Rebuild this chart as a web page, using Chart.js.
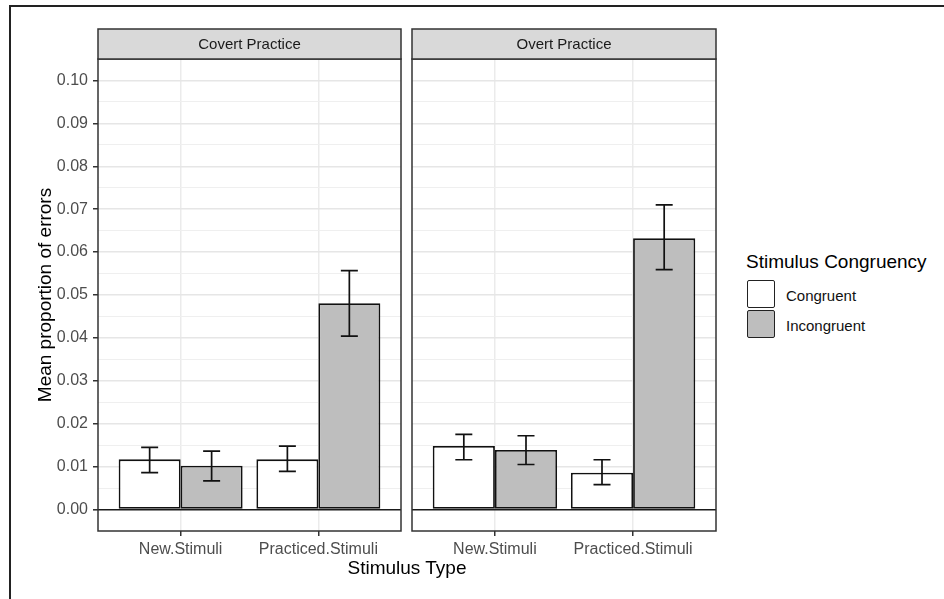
<!DOCTYPE html>
<html>
<head>
<meta charset="utf-8">
<script src="https://cdn.jsdelivr.net/npm/chart.js@4"></script>
<style>
  body { margin: 0; background: #fff; width: 944px; height: 599px; overflow: hidden; position: relative; font-family: 'Liberation Sans', Arial, sans-serif; }
  .frame { position: absolute; left: 9px; top: 5px; width: 1000px; height: 700px; border-left: 2px solid #222; border-top: 2px solid #222; }
  canvas { position: absolute; top: 0; }
  #covertChart { left: 0; }
  #overtChart { left: 404px; }
  .xtitle { position: absolute; left: 307px; width: 200px; top: 557px; text-align: center; font-size: 19px; color: #000; }
  .legend-title { position: absolute; left: 746px; top: 251px; font-size: 19px; color: #000; white-space: nowrap; }
  .key { position: absolute; left: 747px; width: 26px; height: 26px; border: 1.5px solid #222; border-radius: 2px; }
  .key-label { position: absolute; left: 786px; font-size: 15px; color: #111; }
</style>
</head>
<body>
<div class="frame"></div>
<canvas id="covertChart" width="404" height="599"></canvas>
<canvas id="overtChart" width="316" height="599"></canvas>
<div class="xtitle">Stimulus Type</div>
<div class="legend-title">Stimulus Congruency</div>
<div class="key" style="top:280px;background:#fff"></div>
<div class="key-label" style="top:287px">Congruent</div>
<div class="key" style="top:310px;background:#bebebe"></div>
<div class="key-label" style="top:317px">Incongruent</div>

<script>
// Data
const categories = ['New.Stimuli', 'Practiced.Stimuli'];
const panels = ['Covert Practice', 'Overt Practice'];
const seriesNames = ['Congruent', 'Incongruent'];

const covertCongruent = [0.0117, 0.0117];
const covertCongruentLow = [0.0086, 0.0089];
const covertCongruentHigh = [0.0145, 0.0148];
const covertIncongruent = [0.0102, 0.0481];
const covertIncongruentLow = [0.0067, 0.0404];
const covertIncongruentHigh = [0.0136, 0.0557];

const overtCongruent = [0.0148, 0.0086];
const overtCongruentLow = [0.0116, 0.0058];
const overtCongruentHigh = [0.0175, 0.0116];
const overtIncongruent = [0.0139, 0.0632];
const overtIncongruentLow = [0.0105, 0.0559];
const overtIncongruentHigh = [0.0172, 0.0710];

const yTicks = [0, 0.01, 0.02, 0.03, 0.04, 0.05, 0.06, 0.07, 0.08, 0.09, 0.10];
const yTickLabels = ['0.00', '0.01', '0.02', '0.03', '0.04', '0.05', '0.06', '0.07', '0.08', '0.09', '0.10'];

const FONT = "'Liberation Sans', Arial, sans-serif";
const fillColors = ['#ffffff', '#bebebe'];

function majorIndex(v) {
  return yTicks.findIndex(t => Math.abs(t - v) < 1e-9);
}

// error bars, panel border and facet strip
const facetPlugin = {
  id: 'facet',
  afterDatasetsDraw(chart) {
    const ctx = chart.ctx;
    const y = chart.scales.y;
    ctx.save();
    ctx.strokeStyle = '#111';
    ctx.lineWidth = 1.7;
    chart.data.datasets.forEach((ds, d) => {
      chart.getDatasetMeta(d).data.forEach((bar, i) => {
        const top = y.getPixelForValue(ds.errHigh[i]);
        const bot = y.getPixelForValue(ds.errLow[i]);
        ctx.beginPath();
        ctx.moveTo(bar.x, top); ctx.lineTo(bar.x, bot);
        ctx.moveTo(bar.x - 8.5, top); ctx.lineTo(bar.x + 8.5, top);
        ctx.moveTo(bar.x - 8.5, bot); ctx.lineTo(bar.x + 8.5, bot);
        ctx.stroke();
      });
    });
    ctx.restore();
  },
  afterDraw(chart, args, opts) {
    const ctx = chart.ctx;
    const a = chart.chartArea;
    ctx.save();
    ctx.strokeStyle = '#333';
    ctx.lineWidth = 1.5;
    ctx.strokeRect(a.left, a.top, a.right - a.left, a.bottom - a.top);
    ctx.fillStyle = '#d9d9d9';
    ctx.fillRect(a.left, 29, a.right - a.left, a.top - 29);
    ctx.strokeRect(a.left, 29, a.right - a.left, a.top - 29);
    ctx.fillStyle = '#1a1a1a';
    ctx.font = '15px ' + FONT;
    ctx.textAlign = 'center';
    ctx.textBaseline = 'middle';
    ctx.fillText(opts.text, (a.left + a.right) / 2, (29 + a.top) / 2 + 1);
    ctx.restore();
  }
};

function makeDatasets(values) {
  return values.map((v, s) => ({
    label: seriesNames[s],
    data: categories.map((c, i) => ({ x: i + 1, y: v.mean[i] })),
    errLow: v.low,
    errHigh: v.high,
    backgroundColor: fillColors[s],
    borderColor: '#111',
    borderWidth: 1.8,
    borderSkipped: false,
    categoryPercentage: 0.9,
    barPercentage: 1.0
  }));
}

function makeChart(id, panelName, values, showY, padding) {
  new Chart(document.getElementById(id), {
    type: 'bar',
    data: { datasets: makeDatasets(values) },
    plugins: [facetPlugin],
    options: {
      responsive: false,
      animation: false,
      devicePixelRatio: 1,
      layout: { padding: padding },
      plugins: {
        legend: { display: false },
        tooltip: { enabled: false },
        facet: { text: panelName }
      },
      scales: {
        x: {
          type: 'linear',
          min: 0.4,
          max: 2.6,
          offset: false,
          afterBuildTicks: s => { s.ticks = categories.map((c, i) => ({ value: i + 1 })); },
          afterFit: s => { s.height = 68; },
          grid: { offset: false, color: '#ebebeb', lineWidth: 1.5, tickColor: '#333', tickLength: 5 },
          border: { display: false },
          ticks: {
            callback: v => categories[v - 1],
            color: '#4d4d4d',
            padding: 4,
            font: { family: FONT, size: 16 },
            maxRotation: 0
          }
        },
        y: {
          min: -0.005,
          max: 0.105,
          afterBuildTicks: s => {
            const t = [];
            yTicks.forEach((v, i) => {
              t.push({ value: v });
              if (i < yTicks.length - 1) t.push({ value: (v + yTicks[i + 1]) / 2 });
            });
            s.ticks = t;
          },
          afterFit: s => { s.width = showY ? 68 : 0; },
          border: { display: false },
          grid: {
            drawTicks: showY,
            tickLength: 5,
            color: c => Math.abs(c.tick.value) < 1e-9 ? '#1a1a1a' : (majorIndex(c.tick.value) >= 0 ? '#e6e6e6' : '#efefef'),
            lineWidth: c => Math.abs(c.tick.value) < 1e-9 ? 1.6 : (majorIndex(c.tick.value) >= 0 ? 1.5 : 1),
            tickColor: c => majorIndex(c.tick.value) >= 0 ? '#333' : 'rgba(0,0,0,0)'
          },
          ticks: {
            display: showY,
            autoSkip: false,
            padding: 5,
            color: '#4d4d4d',
            font: { family: FONT, size: 16 },
            callback: v => { const k = majorIndex(v); return k >= 0 ? yTickLabels[k] : ''; }
          },
          title: {
            display: showY,
            text: 'Mean proportion of errors',
            color: '#000',
            font: { family: FONT, size: 19 }
          }
        }
      }
    }
  });
}

makeChart('covertChart', panels[0], [
  { mean: covertCongruent, low: covertCongruentLow, high: covertCongruentHigh },
  { mean: covertIncongruent, low: covertIncongruentLow, high: covertIncongruentHigh }
], true, { left: 30, top: 59, right: 3, bottom: 0 });

makeChart('overtChart', panels[1], [
  { mean: overtCongruent, low: overtCongruentLow, high: overtCongruentHigh },
  { mean: overtIncongruent, low: overtIncongruentLow, high: overtIncongruentHigh }
], false, { left: 8, top: 59, right: 4, bottom: 0 });
</script>
</body>
</html>
